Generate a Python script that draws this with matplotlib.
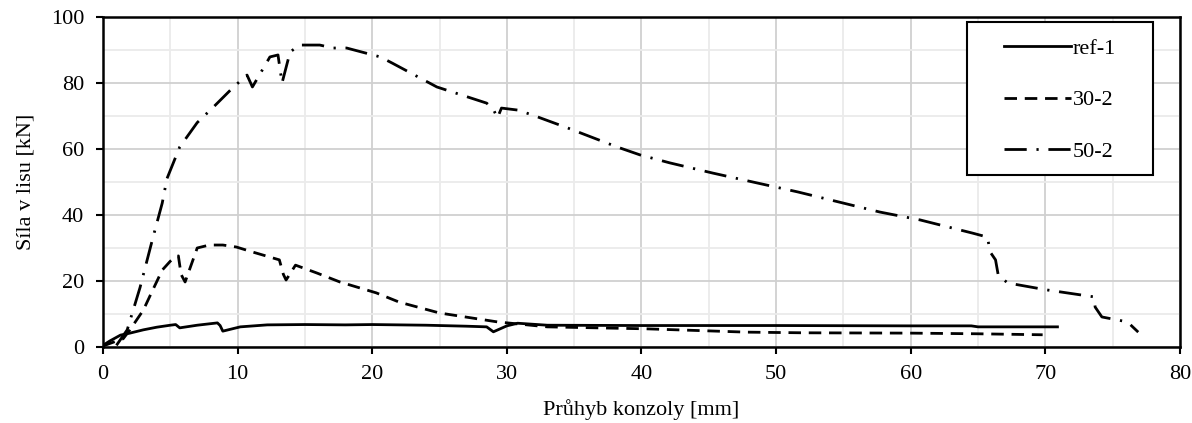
import matplotlib
matplotlib.use("Agg")
import matplotlib.pyplot as plt
from matplotlib.ticker import MultipleLocator
from matplotlib.patches import Rectangle

plt.rcParams['font.family'] = ['Liberation Serif', 'DejaVu Serif']

# ref-1
ref1_x = [0, 0.5, 1.3, 2.0, 3.0, 4.0, 5.0, 5.4, 5.7, 7.0, 8.5, 8.7, 8.9, 10.2, 12.2, 15, 18, 20, 24, 27, 28.5, 29.0, 30.0, 30.8, 33, 40, 50, 60, 64.5, 65, 70.9]
ref1_y = [0.5, 1.8, 3.6, 4.2, 5.2, 6.0, 6.6, 6.8, 5.8, 6.6, 7.3, 6.5, 4.8, 6.1, 6.7, 6.8, 6.7, 6.8, 6.6, 6.3, 6.1, 4.6, 6.4, 7.2, 6.6, 6.5, 6.5, 6.4, 6.4, 6.1, 6.1]

# 30-2
s30_x = [0, 0.8, 1.5, 2.0, 3.0, 3.7, 4.4, 5.0, 5.3, 5.6, 5.8, 6.1, 7.0, 7.9, 8.9, 9.9, 11.1, 13.1, 13.4, 13.6, 14.3, 15.9, 17.6, 20.3, 22.0, 25.0, 29.3, 33.0, 40.4, 47.8, 52, 60, 65, 69.8]
s30_y = [0.3, 1.5, 2.5, 5.2, 11.2, 17.3, 23.3, 26.0, 27.0, 27.6, 22.0, 19.7, 30.0, 30.9, 30.9, 30.3, 28.8, 26.4, 22.0, 20.3, 24.8, 22.4, 19.7, 16.4, 13.6, 10.3, 7.6, 6.1, 5.5, 4.5, 4.3, 4.2, 4.0, 3.7]

# 50-2
s50_x = [1.0, 1.8, 2.75, 3.7, 4.4, 4.75, 5.7, 7.0, 8.2, 9.7, 10.7, 11.1, 12.4, 13.0, 13.3, 13.9, 14.6, 16.1, 17.1, 18.1, 20.6, 21.5, 24.8, 28.5, 29.0, 29.3, 29.6, 30.8, 31.9, 34.5, 38.2, 39.9, 42.1, 45.3, 48.6, 51.6, 57.7, 60.7, 64.6, 65.7, 65.9, 66.3, 66.5, 67.2, 70.1, 73.6, 73.7, 74.2, 76.1, 76.9]
s50_y = [0.5, 5.2, 18.0, 33.0, 43.6, 51.0, 60.6, 68.0, 72.7, 78.8, 82.4, 78.8, 87.9, 88.5, 80.0, 89.4, 91.5, 91.5, 90.6, 90.6, 87.9, 86.0, 78.8, 73.9, 72.0, 69.4, 72.4, 71.8, 70.3, 66.4, 60.6, 58.2, 55.8, 52.7, 49.7, 47.0, 40.9, 38.5, 34.5, 33.3, 28.8, 26.4, 21.8, 19.4, 17.3, 15.2, 12.1, 9.1, 7.6, 4.5]

labels = ['ref-1', '30-2', '50-2']

fs = 16

fig = plt.figure(figsize=(11.92, 4.23), dpi=100)
ax = fig.add_axes([0.0864, 0.1797, 0.9035, 0.7801])

lw = 2.0
ax.plot(ref1_x, ref1_y, color='black', lw=lw, linestyle='-', label=labels[0])
ax.plot(s30_x, s30_y, color='black', lw=lw, linestyle=(0, (4.5, 2.8)), label=labels[1])
ax.plot(s50_x, s50_y, color='black', lw=lw, linestyle=(0, (8, 3.5, 0.8, 3.5)), label=labels[2])

ax.set_xlim(0, 80)
ax.set_ylim(0, 100)
ax.xaxis.set_major_locator(MultipleLocator(10))
ax.xaxis.set_minor_locator(MultipleLocator(5))
ax.yaxis.set_major_locator(MultipleLocator(20))
ax.yaxis.set_minor_locator(MultipleLocator(10))
ax.grid(which='major', color='#d0d0d0', lw=1.3)
ax.grid(which='minor', color='#ebebeb', lw=1.3)
ax.set_axisbelow(True)
ax.tick_params(which='major', direction='out', length=5, width=1.5, labelsize=fs, colors='black')
ax.tick_params(axis='x', which='major', pad=7.8)
ax.tick_params(axis='y', which='major', pad=8.5)
ax.tick_params(which='minor', length=0)
for sp in ax.spines.values():
    sp.set_linewidth(1.8)
    sp.set_color('black')

ax.set_xlabel('Průhyb konzoly [mm]', fontsize=fs, labelpad=11)
ax.set_ylabel('Síla v lisu [kN]', fontsize=fs, labelpad=11)

# legend box (frame drawn separately to match padding)
box = Rectangle((0.802, 0.521), 0.975 - 0.802, 0.985 - 0.521, transform=ax.transAxes,
                facecolor='white', edgecolor='black', lw=1.5, zorder=5)
ax.add_patch(box)
leg = ax.legend(loc='center', bbox_to_anchor=(0.8886, 0.748), fontsize=fs,
                frameon=False, handlelength=3.0,
                labelspacing=1.4, borderpad=0, handletextpad=0.1, borderaxespad=0)
leg.set_zorder(6)

fig.savefig('out.png', dpi=100)
